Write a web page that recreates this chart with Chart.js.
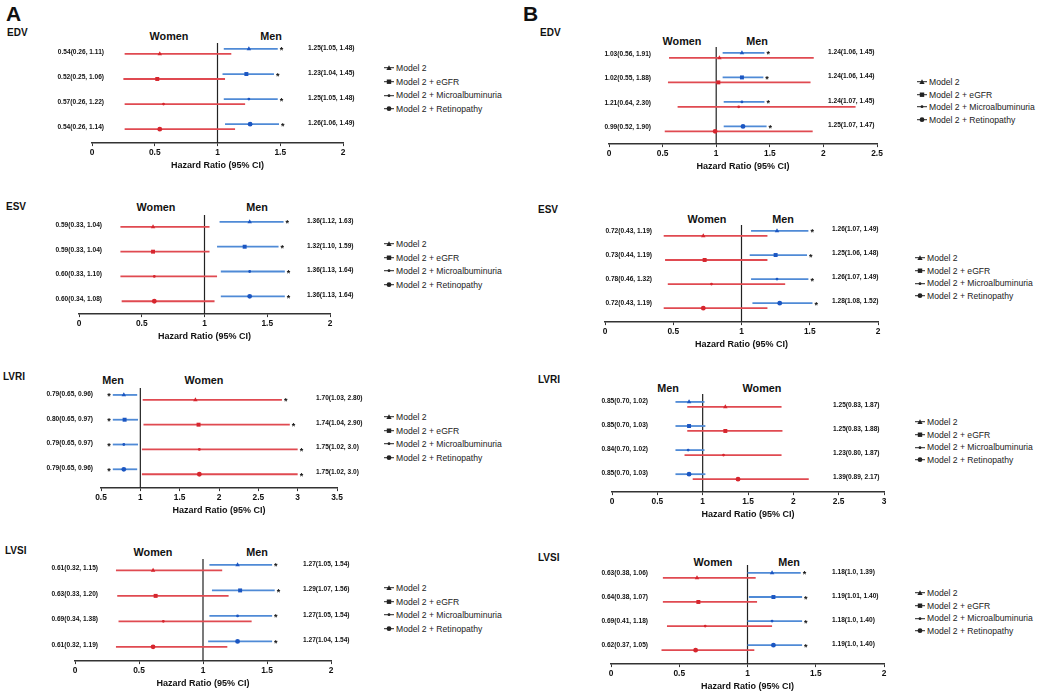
<!DOCTYPE html>
<html>
<head>
<meta charset="utf-8">
<script src="https://cdn.jsdelivr.net/npm/chart.js@4.4.1/dist/chart.umd.min.js"></script>
<style>
body { margin: 0; width: 1040px; height: 691px; background: #fff; position: relative; overflow: hidden; font-family: "Liberation Sans", Arial, sans-serif; color: #111; }
.t { position: absolute; white-space: nowrap; line-height: 1; }
.mid { transform: translate(-50%, -50%); }
.lmid { transform: translate(0, -50%); }
.letter { font-size: 21px; font-weight: bold; }
.ptitle { font-size: 10px; font-weight: bold; }
.head { font-size: 10.8px; font-weight: bold; }
.leg { font-size: 8.6px; color: #222; }
.leg svg { position: absolute; left: 0; top: 50%; transform: translate(0, -50%); }
canvas { position: absolute; }
</style>
</head>
<body>
<script>
// legend entries / model names
const models = ['Model 2', 'Model 2 + eGFR', 'Model 2 + Microalbuminuria', 'Model 2 + Retinopathy'];

// x axis ticks
const ticksTo2 = [0, 0.5, 1, 1.5, 2];
const ticksTo25 = [0, 0.5, 1, 1.5, 2, 2.5];
const ticksTo3 = [0, 0.5, 1, 1.5, 2, 2.5, 3];
const ticksLvriA = [0.5, 1, 1.5, 2, 2.5, 3, 3.5];

// [HR, lower, upper] per model row -- figure A
const aEdvWomen = [[0.54, 0.26, 1.11], [0.52, 0.25, 1.06], [0.57, 0.26, 1.22], [0.54, 0.26, 1.14]];
const aEdvMen = [[1.25, 1.05, 1.48], [1.23, 1.04, 1.45], [1.25, 1.05, 1.48], [1.26, 1.06, 1.49]];
const aEsvWomen = [[0.59, 0.33, 1.04], [0.59, 0.33, 1.04], [0.60, 0.33, 1.10], [0.60, 0.34, 1.08]];
const aEsvMen = [[1.36, 1.12, 1.63], [1.32, 1.10, 1.59], [1.36, 1.13, 1.64], [1.36, 1.13, 1.64]];
const aLvriMen = [[0.79, 0.65, 0.96], [0.80, 0.65, 0.97], [0.79, 0.65, 0.97], [0.79, 0.65, 0.96]];
const aLvriWomen = [[1.70, 1.03, 2.80], [1.74, 1.04, 2.90], [1.75, 1.02, 3.0], [1.75, 1.02, 3.0]];
const aLvsiWomen = [[0.61, 0.32, 1.15], [0.63, 0.33, 1.20], [0.69, 0.34, 1.38], [0.61, 0.32, 1.19]];
const aLvsiMen = [[1.27, 1.05, 1.54], [1.29, 1.07, 1.56], [1.27, 1.05, 1.54], [1.27, 1.04, 1.54]];

// figure B
const bEdvWomen = [[1.03, 0.56, 1.91], [1.02, 0.55, 1.88], [1.21, 0.64, 2.30], [0.99, 0.52, 1.90]];
const bEdvMen = [[1.24, 1.06, 1.45], [1.24, 1.06, 1.44], [1.24, 1.07, 1.45], [1.25, 1.07, 1.47]];
const bEsvWomen = [[0.72, 0.43, 1.19], [0.73, 0.44, 1.19], [0.78, 0.46, 1.32], [0.72, 0.43, 1.19]];
const bEsvMen = [[1.26, 1.07, 1.49], [1.25, 1.06, 1.48], [1.26, 1.07, 1.49], [1.28, 1.08, 1.52]];
const bLvriMen = [[0.85, 0.70, 1.02], [0.85, 0.70, 1.03], [0.84, 0.70, 1.02], [0.85, 0.70, 1.03]];
const bLvriWomen = [[1.25, 0.83, 1.87], [1.25, 0.83, 1.88], [1.23, 0.80, 1.87], [1.39, 0.89, 2.17]];
const bLvsiWomen = [[0.63, 0.38, 1.06], [0.64, 0.38, 1.07], [0.69, 0.41, 1.18], [0.62, 0.37, 1.05]];
const bLvsiMen = [[1.18, 1.0, 1.39], [1.19, 1.01, 1.40], [1.18, 1.0, 1.40], [1.19, 1.0, 1.40]];

Chart.defaults.font.family = '"Liberation Sans", Arial, sans-serif';

const BLUE_LINE = '#4f8ad6', BLUE_PT = '#1b56c2';
const RED_LINE = '#e04a51', RED_PT = '#d6262e';
const pointStyles = ['triangle', 'rect', 'circle', 'circle'];
const pointSizes = [2.6, 2.8, 1.4, 2.4];

const colA = { x: 0, w: 372 };
const colB = { x: 560, w: 335 };

const panels = [
	{ col: colA, title: 'EDV', tx: 7, ty: 33, ticks: ticksTo2, min: 0, max: 2,
		left: { name: 'Women', data: aEdvWomen, color: 'red', hx: 169 }, right: { name: 'Men', data: aEdvMen, color: 'blue', hx: 271 }, hy: 36,
		x0: 92, x1: 343, top: 43, axisY: 144, row0: 49, gap: 25.3, redDy: 5,
		leftX: 104, rightX: 308, leftDy: -2, rightDy: -1, legX: 384, legY: 68, legGap: 13.7 },
	{ col: colA, title: 'ESV', tx: 6, ty: 207, ticks: ticksTo2, min: 0, max: 2,
		left: { name: 'Women', data: aEsvWomen, color: 'red', hx: 156 }, right: { name: 'Men', data: aEsvMen, color: 'blue', hx: 257 }, hy: 207,
		x0: 79, x1: 330, top: 215, axisY: 315, row0: 222, gap: 25, redDy: 5,
		leftX: 102, rightX: 307, leftDy: -2, rightDy: -1, legX: 384, legY: 244, legGap: 13.5 },
	{ col: colA, title: 'LVRI', tx: 3, ty: 377, ticks: ticksLvriA, min: 0.5, max: 3.5,
		left: { name: 'Men', data: aLvriMen, color: 'blue', hx: 113 }, right: { name: 'Women', data: aLvriWomen, color: 'red', hx: 204 }, hy: 380,
		x0: 101, x1: 337, top: 388, axisY: 489, row0: 395, gap: 25, redDy: 5,
		leftX: 93, rightX: 316, leftDy: -1, rightDy: -2, legX: 384, legY: 417, legGap: 13.5 },
	{ col: colA, title: 'LVSI', tx: 5, ty: 551, ticks: ticksTo2, min: 0, max: 2,
		left: { name: 'Women', data: aLvsiWomen, color: 'red', hx: 153 }, right: { name: 'Men', data: aLvsiMen, color: 'blue', hx: 257 }, hy: 552,
		x0: 75, x1: 331, top: 559, axisY: 662, row0: 565, gap: 25.7, redDy: 5.5,
		leftX: 98, rightX: 303, leftDy: -2, rightDy: -1, legX: 384, legY: 588, legGap: 13.5 },
	{ col: colB, title: 'EDV', tx: 540, ty: 33, ticks: ticksTo25, min: 0, max: 2.5,
		left: { name: 'Women', data: bEdvWomen, color: 'red', hx: 682 }, right: { name: 'Men', data: bEdvMen, color: 'blue', hx: 757 }, hy: 41,
		x0: 609, x1: 877, top: 47, axisY: 145, row0: 53, gap: 24.7, redDy: 5,
		leftX: 651, rightX: 828, leftDy: -4, rightDy: -1, legX: 917, legY: 82, legGap: 12.6 },
	{ col: colB, title: 'ESV', tx: 538, ty: 210, ticks: ticksTo2, min: 0, max: 2,
		left: { name: 'Women', data: bEsvWomen, color: 'red', hx: 707 }, right: { name: 'Men', data: bEsvMen, color: 'blue', hx: 783 }, hy: 219,
		x0: 605, x1: 878, top: 225, axisY: 323, row0: 231, gap: 24.3, redDy: 5,
		leftX: 652, rightX: 832, leftDy: -5, rightDy: -2, legX: 915, legY: 258, legGap: 12.7 },
	{ col: colB, title: 'LVRI', tx: 538, ty: 380, ticks: ticksTo3, min: 0, max: 3,
		left: { name: 'Men', data: bLvriMen, color: 'blue', hx: 668 }, right: { name: 'Women', data: bLvriWomen, color: 'red', hx: 762 }, hy: 388,
		x0: 612, x1: 884, top: 394, axisY: 493, row0: 402, gap: 24.3, redDy: 5,
		leftX: 648, rightX: 833, leftDy: -1, rightDy: -2, legX: 915, legY: 422, legGap: 12.7 },
	{ col: colB, title: 'LVSI', tx: 538, ty: 558, ticks: ticksTo2, min: 0, max: 2,
		left: { name: 'Women', data: bLvsiWomen, color: 'red', hx: 713 }, right: { name: 'Men', data: bLvsiMen, color: 'blue', hx: 789 }, hy: 562,
		x0: 611, x1: 884, top: 565, axisY: 665, row0: 573, gap: 24.3, redDy: 5,
		leftX: 648, rightX: 832, leftDy: -5, rightDy: -1, legX: 915, legY: 593, legGap: 12.7 },
];

const fmt = v => Number.isInteger(v) ? v.toFixed(1) : v.toFixed(2);
const ciText = r => `${fmt(r[0])}(${fmt(r[1])}, ${fmt(r[2])})`;

function put(text, cls, x, y) {
	const d = document.createElement('div');
	d.className = 't ' + cls;
	d.textContent = text;
	d.style.left = x + 'px';
	d.style.top = y + 'px';
	document.body.appendChild(d);
	return d;
}

const legendIcons = [
	'<polygon points="5,1.6 7.6,6.2 2.4,6.2" fill="#222"/>',
	'<rect x="2.8" y="1.8" width="4.4" height="4.4" fill="#222"/>',
	'<circle cx="5" cy="4" r="1.4" fill="#222"/>',
	'<circle cx="5" cy="4" r="2.4" fill="#222"/>',
];

function drawLegend(p) {
	models.forEach((m, i) => {
		const d = put('', 'leg lmid', p.legX, p.legY + i * p.legGap);
		d.style.paddingLeft = '12px';
		d.innerHTML = '<svg width="10" height="8"><line x1="0" y1="4" x2="10" y2="4" stroke="#222" stroke-width="1"/>' + legendIcons[i] + '</svg>';
		d.appendChild(document.createTextNode(m));
	});
}

function drawPanel(p) {
	put(p.title, 'ptitle lmid', p.tx, p.ty);
	put(p.left.name, 'head mid', p.left.hx, p.hy);
	put(p.right.name, 'head mid', p.right.hx, p.hy);
	drawLegend(p);

	const cLeft = p.col.x, cTop = p.top - 4;
	const cw = p.col.w, ch = Math.round(p.axisY - p.top + 4 + 27.4);
	const cv = document.createElement('canvas');
	cv.width = cw; cv.height = ch;
	cv.style.left = cLeft + 'px'; cv.style.top = cTop + 'px';
	cv.style.width = cw + 'px'; cv.style.height = ch + 'px';
	document.body.appendChild(cv);

	const yMin = (p.top - p.row0) / p.gap;
	const yMax = (p.axisY - p.row0) / p.gap;
	const redOff = p.redDy / p.gap;
	const yOf = (g, i) => i + (g.color === 'red' ? redOff : 0);
	const groups = [p.left, p.right];

	const datasets = [{
		data: [{ x: 1, y: yMin }, { x: 1, y: yMax }],
		showLine: true, borderColor: '#222', borderWidth: 1.2, pointRadius: 0, order: 3,
	}];
	groups.forEach(g => {
		const lc = g.color === 'red' ? RED_LINE : BLUE_LINE;
		const pc = g.color === 'red' ? RED_PT : BLUE_PT;
		g.data.forEach((r, i) => {
			datasets.push({
				data: [{ x: r[1], y: yOf(g, i) }, { x: r[2], y: yOf(g, i) }],
				showLine: true, borderColor: lc, borderWidth: 1.8, pointRadius: 0, order: 2,
			});
		});
		datasets.push({
			data: g.data.map((r, i) => ({ x: r[0], y: yOf(g, i) })),
			pointStyle: pointStyles, pointRadius: pointSizes,
			backgroundColor: pc, borderColor: pc, borderWidth: 0, order: 1,
		});
	});

	const textPlugin = {
		id: 'forestText',
		afterDatasetsDraw(chart) {
			const { ctx, scales: { x, y } } = chart;
			ctx.save();
			ctx.fillStyle = '#111';
			ctx.textBaseline = 'middle';
			groups.forEach((g, side) => {
				g.data.forEach((r, i) => {
					const py = y.getPixelForValue(yOf(g, i));
					ctx.font = 'bold 6.6px "Liberation Sans", Arial, sans-serif';
					if (side === 0) {
						ctx.textAlign = 'right';
						ctx.fillText(ciText(r), p.leftX - cLeft, py + p.leftDy);
					} else {
						ctx.textAlign = 'left';
						ctx.fillText(ciText(r), p.rightX - cLeft, py + p.rightDy);
					}
					if (r[1] >= 1 || r[2] < 1) {
						ctx.font = 'bold 9px "Liberation Sans", Arial, sans-serif';
						if (r[2] < 1) {
							ctx.textAlign = 'right';
							ctx.fillText('*', x.getPixelForValue(r[1]) - 2, py + 2);
						} else {
							ctx.textAlign = 'left';
							ctx.fillText('*', x.getPixelForValue(r[2]) + 2, py + 2);
						}
					}
				});
			});
			ctx.restore();
		},
	};

	new Chart(cv, {
		type: 'scatter',
		data: { datasets },
		options: {
			animation: false,
			responsive: false,
			events: [],
			layout: { padding: { left: p.x0 - cLeft, right: cLeft + cw - p.x1, top: 4, bottom: 0 } },
			plugins: { legend: { display: false }, tooltip: { enabled: false } },
			scales: {
				x: {
					type: 'linear', min: p.min, max: p.max,
					afterBuildTicks: s => { s.ticks = p.ticks.map(v => ({ value: v })); },
					ticks: { font: { size: 8.4, weight: 'bold' }, color: '#111', padding: 2, maxRotation: 0, autoSkip: false, callback: v => String(v) },
					grid: { display: true, drawOnChartArea: false, drawTicks: true, tickLength: 3, color: '#333' },
					border: { display: true, color: '#333', width: 1.4 },
					title: { display: true, text: 'Hazard Ratio (95% CI)', font: { size: 9, weight: 'bold' }, color: '#111', padding: { top: 0, bottom: 0 } },
				},
				y: { type: 'linear', display: false, min: yMin, max: yMax, reverse: true },
			},
		},
		plugins: [textPlugin],
	});
}

put('A', 'letter', 6, 3);
put('B', 'letter', 523, 3);
panels.forEach(drawPanel);
</script>
</body>
</html>
